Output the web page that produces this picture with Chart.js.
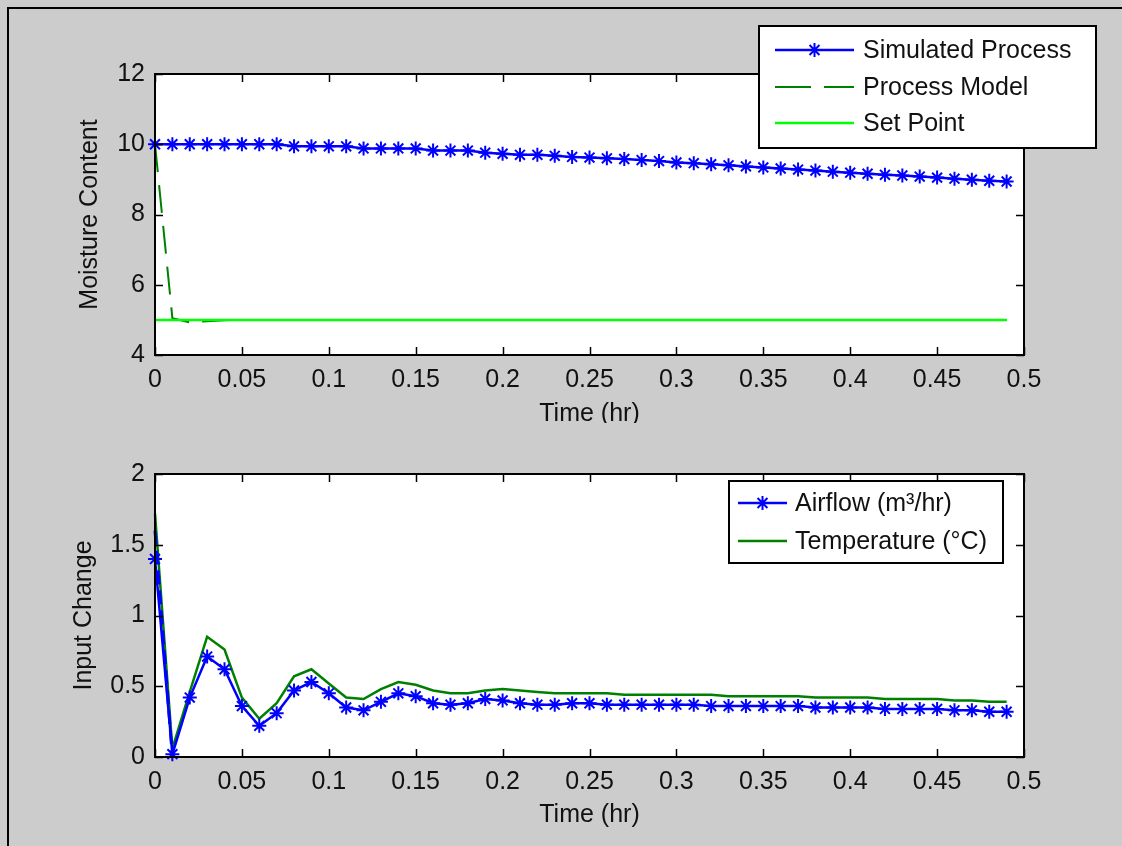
<!DOCTYPE html>
<html>
<head>
<meta charset="utf-8">
<script src="https://cdn.jsdelivr.net/npm/chart.js@4.4.1/dist/chart.umd.min.js"></script>
<style>
  html, body { margin: 0; padding: 0; background: #cccccc; }
  body { width: 1122px; height: 846px; position: relative; overflow: hidden; }
  #frame { position: absolute; left: 7px; top: 7px; width: 1200px; height: 900px;
           border-left: 2px solid #000; border-top: 2px solid #000; }
  .box { position: absolute; left: 0; width: 1122px; height: 423px; }
  #top { top: 0; }
  #bottom { top: 423px; }
</style>
</head>
<body>
<div id="frame"></div>
<div class="box" id="top"><canvas id="moisture"></canvas></div>
<div class="box" id="bottom"><canvas id="inputs"></canvas></div>
<script>
// time axis (hr)
const time = [0, 0.01, 0.02, 0.03, 0.04, 0.05, 0.06, 0.07, 0.08, 0.09,
  0.10, 0.11, 0.12, 0.13, 0.14, 0.15, 0.16, 0.17, 0.18, 0.19,
  0.20, 0.21, 0.22, 0.23, 0.24, 0.25, 0.26, 0.27, 0.28, 0.29,
  0.30, 0.31, 0.32, 0.33, 0.34, 0.35, 0.36, 0.37, 0.38, 0.39,
  0.40, 0.41, 0.42, 0.43, 0.44, 0.45, 0.46, 0.47, 0.48, 0.49];

// top plot
const simulated = [10, 10, 10, 10, 10, 10, 10, 10, 9.94, 9.94,
  9.94, 9.94, 9.88, 9.88, 9.88, 9.88, 9.82, 9.82, 9.82, 9.76,
  9.73, 9.70, 9.70, 9.67, 9.64, 9.62, 9.60, 9.58, 9.55, 9.52,
  9.48, 9.46, 9.43, 9.40, 9.37, 9.34, 9.31, 9.28, 9.25, 9.22,
  9.19, 9.16, 9.13, 9.11, 9.08, 9.05, 9.02, 8.99, 8.96, 8.94];
const model = [10, 5.05, 4.93, 4.96, 4.99, 5, 5, 5, 5, 5,
  5, 5, 5, 5, 5, 5, 5, 5, 5, 5,
  5, 5, 5, 5, 5, 5, 5, 5, 5, 5,
  5, 5, 5, 5, 5, 5, 5, 5, 5, 5,
  5, 5, 5, 5, 5, 5, 5, 5, 5, 5];
const setPoint = [5, 5, 5, 5, 5, 5, 5, 5, 5, 5,
  5, 5, 5, 5, 5, 5, 5, 5, 5, 5,
  5, 5, 5, 5, 5, 5, 5, 5, 5, 5,
  5, 5, 5, 5, 5, 5, 5, 5, 5, 5,
  5, 5, 5, 5, 5, 5, 5, 5, 5, 5];

// bottom plot
const airflow = [1.40, 0.02, 0.42, 0.71, 0.62, 0.36, 0.22, 0.31, 0.47, 0.53,
  0.45, 0.35, 0.33, 0.39, 0.45, 0.43, 0.38, 0.37, 0.38, 0.41,
  0.40, 0.38, 0.37, 0.37, 0.38, 0.38, 0.37, 0.37, 0.37, 0.37,
  0.37, 0.37, 0.36, 0.36, 0.36, 0.36, 0.36, 0.36, 0.35, 0.35,
  0.35, 0.35, 0.34, 0.34, 0.34, 0.34, 0.33, 0.33, 0.32, 0.32];
const temperature = [1.72, 0.06, 0.46, 0.85, 0.76, 0.42, 0.27, 0.38, 0.57, 0.62,
  0.52, 0.42, 0.41, 0.48, 0.53, 0.51, 0.47, 0.45, 0.45, 0.47,
  0.48, 0.47, 0.46, 0.45, 0.45, 0.45, 0.45, 0.44, 0.44, 0.44,
  0.44, 0.44, 0.44, 0.43, 0.43, 0.43, 0.43, 0.43, 0.42, 0.42,
  0.42, 0.42, 0.41, 0.41, 0.41, 0.41, 0.40, 0.40, 0.39, 0.39];
const airflowModelTime = [0, 0.01];
const airflowModel = [1.6, 0];

const xTicks = [0, 0.05, 0.1, 0.15, 0.2, 0.25, 0.3, 0.35, 0.4, 0.45, 0.5];

const FONT = '"Liberation Sans", Arial, sans-serif';
const pts = (xs, ys) => xs.map((x, i) => ({ x: x, y: ys[i] }));

// white axes, box and inward ticks like matlab, plus a boxed legend
const matlabAxes = {
  id: 'matlabAxes',
  beforeDraw(chart) {
    const a = chart.chartArea, c = chart.ctx;
    c.save();
    c.fillStyle = '#fff';
    c.fillRect(a.left, a.top, a.right - a.left, a.bottom - a.top);
    c.restore();
  },
  afterDatasetsDraw(chart) {
    const a = chart.chartArea, c = chart.ctx;
    const len = 8;
    c.save();
    c.strokeStyle = '#000';
    c.lineWidth = 1.5;
    c.beginPath();
    chart.scales.x.ticks.forEach(t => {
      const px = Math.round(chart.scales.x.getPixelForValue(t.value)) + 0.5;
      c.moveTo(px, a.bottom); c.lineTo(px, a.bottom - len);
      c.moveTo(px, a.top); c.lineTo(px, a.top + len);
    });
    chart.scales.y.ticks.forEach(t => {
      const py = Math.round(chart.scales.y.getPixelForValue(t.value)) + 0.5;
      c.moveTo(a.left, py); c.lineTo(a.left + len, py);
      c.moveTo(a.right, py); c.lineTo(a.right - len, py);
    });
    c.stroke();
    c.lineWidth = 2;
    c.strokeRect(a.left, a.top, a.right - a.left, a.bottom - a.top);
    c.restore();
  },
  afterDraw(chart, args, opts) {
    const L = opts.legend;
    if (!L) return;
    const c = chart.ctx;
    c.save();
    c.fillStyle = '#fff';
    c.fillRect(L.x0, L.y0, L.x1 - L.x0, L.y1 - L.y0);
    c.strokeStyle = '#000';
    c.lineWidth = 2;
    c.strokeRect(L.x0, L.y0, L.x1 - L.x0, L.y1 - L.y0);
    c.font = '25px ' + FONT;
    c.textBaseline = 'middle';
    let row = 0;
    chart.data.datasets.forEach(ds => {
      if (ds.noLegend) return;
      const y = L.rowY[row++];
      c.save();
      c.strokeStyle = ds.borderColor;
      c.fillStyle = ds.borderColor;
      c.lineWidth = ds.borderWidth;
      c.setLineDash(ds.legendDash || []);
      c.beginPath();
      c.moveTo(L.s0, y); c.lineTo(L.s1, y);
      c.stroke();
      c.setLineDash([]);
      if (ds.pointRadius > 0 && Chart.helpers && Chart.helpers.drawPoint) {
        c.lineWidth = ds.pointBorderWidth;
        Chart.helpers.drawPoint(c, {
          pointStyle: ds.pointStyle, radius: ds.pointRadius,
          borderWidth: ds.pointBorderWidth, rotation: 0
        }, (L.s0 + L.s1) / 2, y);
      }
      c.restore();
      c.fillStyle = '#111';
      c.fillText(ds.label, L.tx, y + 1);
    });
    c.restore();
  }
};

function axisOpts(yMin, yMax, yStep, yTitle, yTitlePad, xTitlePad, xHeight, yWidth) {
  return {
    x: {
      type: 'linear', min: 0, max: 0.5,
      afterBuildTicks: s => { s.ticks = xTicks.map(v => ({ value: v })); },
      afterFit: s => { s.height = xHeight; },
      grid: { display: false, drawTicks: false },
      border: { display: false },
      ticks: {
        padding: 10, maxRotation: 0, autoSkip: false, color: '#111',
        font: { family: FONT, size: 25 },
        callback: v => String(+v.toFixed(2))
      },
      title: {
        display: true, text: 'Time (hr)', color: '#111',
        font: { family: FONT, size: 25, lineHeight: 1 },
        padding: { top: 0, bottom: xTitlePad }
      }
    },
    y: {
      min: yMin, max: yMax,
      afterFit: s => { s.width = yWidth; },
      grid: { display: false, drawTicks: false },
      border: { display: false },
      ticks: {
        stepSize: yStep, padding: 10, color: '#111',
        font: { family: FONT, size: 25 },
        callback: v => String(+v.toFixed(2))
      },
      title: {
        display: true, text: yTitle, color: '#111',
        font: { family: FONT, size: 25, lineHeight: 1 },
        padding: { top: yTitlePad, bottom: 0 }
      }
    }
  };
}

new Chart(document.getElementById('moisture'), {
  type: 'line',
  data: {
    datasets: [{
      label: 'Simulated Process',
      data: pts(time, simulated),
      borderColor: '#0000ff', backgroundColor: '#0000ff',
      borderWidth: 2.5,
      pointStyle: 'star', pointRadius: 7, pointBorderWidth: 2,
      order: 0, clip: false
    }, {
      label: 'Process Model',
      data: pts(time, model),
      borderColor: '#008000', borderWidth: 2,
      borderDash: [28, 13], legendDash: [36, 13],
      pointRadius: 0, order: 2, clip: false
    }, {
      label: 'Set Point',
      data: pts(time, setPoint),
      borderColor: '#00ff00', borderWidth: 2.5,
      pointRadius: 0, order: 1, clip: false
    }]
  },
  options: {
    responsive: true, maintainAspectRatio: false, animation: false,
    events: [],
    layout: { padding: { left: 57, top: 74, right: 98, bottom: 0 } },
    elements: { line: { tension: 0 } },
    scales: axisOpts(4, 12, 2, 'Moisture Content', 21, -4, 68, 98),
    plugins: {
      legend: { display: false },
      tooltip: { enabled: false },
      matlabAxes: {
        legend: { x0: 759, y0: 26, x1: 1096, y1: 148, s0: 775, s1: 854, tx: 863, rowY: [50, 87, 123] }
      }
    }
  },
  plugins: [matlabAxes]
});

new Chart(document.getElementById('inputs'), {
  type: 'line',
  data: {
    datasets: [{
      label: 'Airflow (m³/hr)',
      data: pts(time, airflow),
      borderColor: '#0000ff', backgroundColor: '#0000ff',
      borderWidth: 2.5,
      pointStyle: 'star', pointRadius: 7, pointBorderWidth: 2,
      order: 0, clip: false
    }, {
      label: 'Temperature (°C)',
      data: pts(time, temperature),
      borderColor: '#008000', borderWidth: 2.5,
      pointRadius: 0, order: 2, clip: false
    }, {
      label: 'airflow model',
      noLegend: true,
      data: pts(airflowModelTime, airflowModel),
      borderColor: '#0000ff', borderWidth: 3,
      borderDash: [14, 6],
      pointRadius: 0, order: 1, clip: false
    }]
  },
  options: {
    responsive: true, maintainAspectRatio: false, animation: false,
    events: [],
    layout: { padding: { left: 57, top: 51, right: 98, bottom: 0 } },
    elements: { line: { tension: 0 } },
    scales: axisOpts(0, 2, 0.5, 'Input Change', 15, 18, 89, 98),
    plugins: {
      legend: { display: false },
      tooltip: { enabled: false },
      matlabAxes: {
        legend: { x0: 729, y0: 58, x1: 1003, y1: 140, s0: 738, s1: 787, tx: 795, rowY: [80, 118] }
      }
    }
  },
  plugins: [matlabAxes]
});
</script>
</body>
</html>
